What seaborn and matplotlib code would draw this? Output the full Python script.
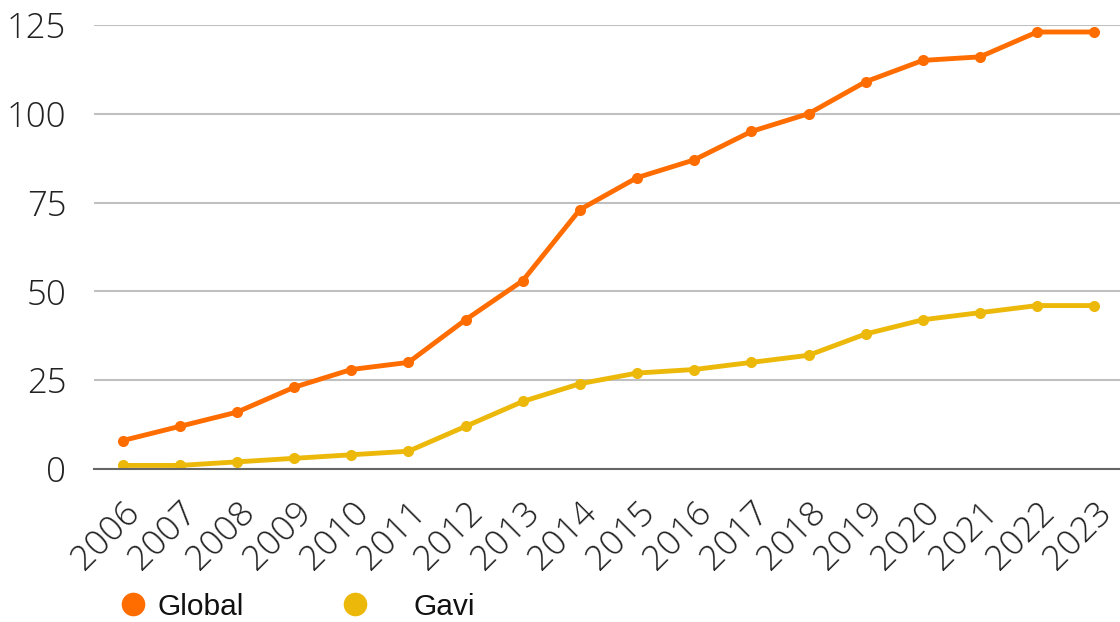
import matplotlib
matplotlib.use("Agg")
import matplotlib.pyplot as plt
from matplotlib.lines import Line2D
import seaborn as sns
import pandas as pd

years = list(range(2006, 2024))
global_vals = [8, 12, 16, 23, 28, 30, 42, 53, 73, 82, 87, 95, 100, 109, 115, 116, 123, 123]
gavi_vals = [1, 1, 2, 3, 4, 5, 12, 19, 24, 27, 28, 30, 32, 38, 42, 44, 46, 46]
series_names = ["Global", "Gavi"]
colors = {"Global": "#ff6d01", "Gavi": "#ecb90b"}
y_ticks = [0, 25, 50, 75, 100, 125]

df = pd.DataFrame({
    "year": years * 2,
    "value": global_vals + gavi_vals,
    "series": [series_names[0]] * len(years) + [series_names[1]] * len(years),
})

sns.set_theme(style="white")
plt.rcParams["font.family"] = ["Open Sans", "DejaVu Sans"]

fig = plt.figure(figsize=(11.2, 6.22), dpi=100)
ax = fig.add_axes([0.084, 0.246, 0.916, 0.714])

sns.lineplot(data=df, x="year", y="value", hue="series", palette=colors,
             marker="o", markersize=8, markeredgewidth=0, linewidth=3.5,
             legend=False, ax=ax)

ax.set_xlim(2005.5, 2023.45)
ax.set_ylim(0, 125)
ax.set_yticks(y_ticks)
ax.set_xticks(years)
ax.set_xticklabels([str(y) for y in years], rotation=45, ha="right",
                   rotation_mode="anchor", fontsize=25.5, fontweight="light",
                   color="#222222")
ax.set_yticklabels([str(v) for v in y_ticks], fontsize=25, fontweight="light",
                   color="#222222")
ax.tick_params(axis="y", length=0, pad=20)
ax.tick_params(axis="x", length=0, pad=19)
ax.grid(axis="y", color="#c0c0c0", linewidth=1.5)
ax.set_axisbelow(True)
for side in ["left", "right", "top"]:
    ax.spines[side].set_visible(False)
ax.spines["bottom"].set_color("#666666")
ax.spines["bottom"].set_linewidth(1.5)
ax.set_xlabel("")
ax.set_ylabel("")

# Legend entries, one legend per series
legend_pos = {"Global": (0.105, 0.002), "Gavi": (0.304, 0.002)}
text_pad = {"Global": 0.33, "Gavi": 1.43}
for name in series_names:
    handle = Line2D([], [], linestyle="none", marker="o", markersize=17,
                    markerfacecolor=colors[name], markeredgewidth=0)
    leg = fig.legend([handle], [name], loc="lower left",
                     bbox_to_anchor=legend_pos[name], frameon=False,
                     handlelength=1.0, handletextpad=text_pad[name],
                     borderaxespad=0, borderpad=0,
                     prop={"family": "Liberation Sans", "size": 21.5})
    for t in leg.get_texts():
        t.set_color("#111111")

fig.savefig("out.png", dpi=100)
